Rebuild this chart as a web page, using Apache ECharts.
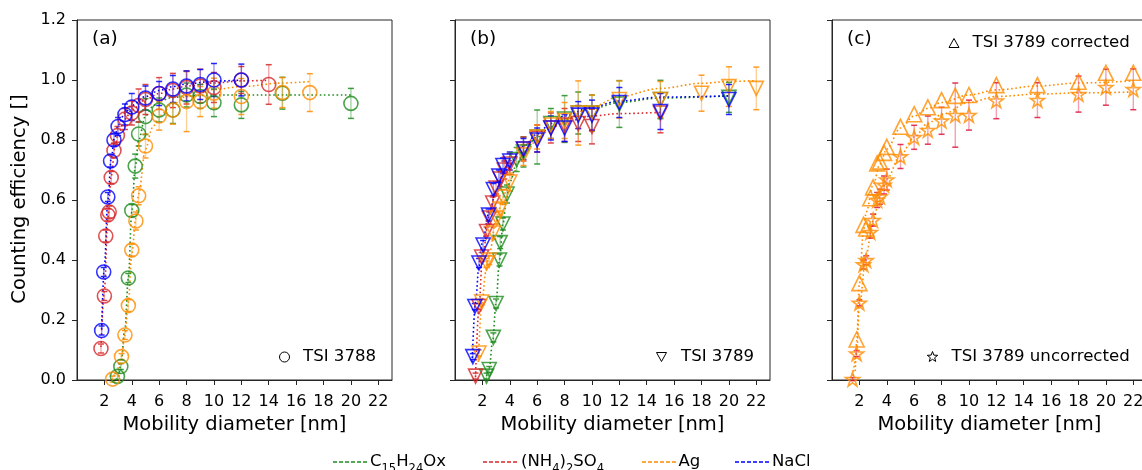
<!DOCTYPE html>
<html><head><meta charset="utf-8">
<script src="https://cdn.jsdelivr.net/npm/echarts@6/dist/echarts.min.js"></script>
<style>html,body{margin:0;padding:0;background:#fff}#c{width:1142px;height:470px}</style>
</head><body><div id="c"></div><script>
// ---------- tick labels ----------
const xTicks = [2, 4, 6, 8, 10, 12, 14, 16, 18, 20, 22];

// ---------- panel (a): TSI 3788 ----------
const aGreenX = [2.95, 3.2, 3.75, 4.0, 4.25, 4.5, 5.0, 6.0, 7.0, 8.0, 9.0, 10.0, 12.0, 15.0, 20.0];
const aGreenY = [0.012, 0.045, 0.34, 0.565, 0.713, 0.82, 0.878, 0.9, 0.9, 0.95, 0.945, 0.924, 0.917, 0.956, 0.922];
const aGreenE = [0.01, 0.01, 0.015, 0.02, 0.04, 0.04, 0.06, 0.04, 0.045, 0.04, 0.04, 0.046, 0.045, 0.053, 0.05];
const aRedX = [1.75, 2.0, 2.1, 2.25, 2.35, 2.5, 2.7, 2.95, 3.5, 4.0, 4.5, 5.0, 6.0, 7.0, 8.0, 9.0, 10.0, 12.0, 14.0];
const aRedY = [0.105, 0.28, 0.48, 0.55, 0.56, 0.675, 0.765, 0.815, 0.87, 0.89, 0.915, 0.935, 0.955, 0.965, 0.975, 0.98, 0.975, 1.0, 0.985];
const aRedE = [0.015, 0.015, 0.02, 0.02, 0.02, 0.02, 0.025, 0.03, 0.035, 0.04, 0.055, 0.05, 0.053, 0.057, 0.055, 0.056, 0.05, 0.045, 0.066];
const aOrangeX = [2.6, 3.25, 3.5, 3.75, 4.0, 4.3, 4.5, 5.0, 6.0, 7.0, 8.0, 9.0, 10.0, 12.0, 15.0, 17.0];
const aOrangeY = [0.003, 0.078, 0.15, 0.248, 0.433, 0.53, 0.614, 0.78, 0.88, 0.9, 0.928, 0.928, 0.956, 0.945, 0.958, 0.958];
const aOrangeE = [0.01, 0.01, 0.015, 0.02, 0.02, 0.03, 0.03, 0.04, 0.047, 0.047, 0.1, 0.05, 0.05, 0.06, 0.05, 0.063];
const aBlueX = [1.8, 1.95, 2.25, 2.45, 2.7, 3.0, 3.5, 4.0, 5.0, 6.0, 7.0, 8.0, 9.0, 10.0, 12.0];
const aBlueY = [0.165, 0.36, 0.61, 0.73, 0.80, 0.845, 0.885, 0.91, 0.94, 0.955, 0.97, 0.98, 0.985, 1.0, 1.0];
const aBlueE = [0.015, 0.015, 0.015, 0.02, 0.02, 0.03, 0.035, 0.045, 0.04, 0.04, 0.045, 0.05, 0.05, 0.055, 0.053];
// fitted curves
const aGreenFitX = [2.85, 3.0, 3.2, 3.5, 3.75, 4.0, 4.25, 4.5, 5.0, 5.5, 6.0, 7.0, 8.0, 10.0, 12.0, 15.0, 20.0];
const aGreenFitY = [0.0, 0.01, 0.05, 0.17, 0.34, 0.56, 0.71, 0.8, 0.88, 0.91, 0.93, 0.942, 0.947, 0.95, 0.95, 0.95, 0.95];
const aRedFitX = [1.75, 2.0, 2.25, 2.5, 2.75, 3.0, 3.5, 4.0, 5.0, 6.0, 7.0, 8.0, 10.0, 12.0, 14.0];
const aRedFitY = [0.11, 0.3, 0.54, 0.68, 0.77, 0.82, 0.87, 0.9, 0.935, 0.955, 0.97, 0.98, 0.99, 0.997, 0.999];
const aOrangeFitX = [2.6, 3.0, 3.25, 3.5, 3.75, 4.0, 4.3, 4.5, 5.0, 5.5, 6.0, 7.0, 8.0, 10.0, 12.0, 15.0, 17.0];
const aOrangeFitY = [0.0, 0.04, 0.08, 0.15, 0.26, 0.42, 0.54, 0.62, 0.77, 0.84, 0.88, 0.92, 0.945, 0.968, 0.978, 0.99, 0.995];
const aBlueFitX = [1.8, 2.0, 2.25, 2.5, 2.75, 3.0, 3.5, 4.0, 5.0, 6.0, 7.0, 8.0, 10.0, 12.0];
const aBlueFitY = [0.17, 0.38, 0.6, 0.74, 0.81, 0.85, 0.89, 0.915, 0.945, 0.965, 0.978, 0.987, 0.996, 1.0];

// ---------- panel (b): TSI 3789 ----------
const bGreenX = [2.3, 2.5, 2.8, 3.0, 3.25, 3.3, 3.5, 3.8, 4.5, 5.0, 6.0, 7.0, 8.0, 9.0, 10.0, 12.0, 15.0, 20.0];
const bGreenY = [0.013, 0.035, 0.142, 0.255, 0.40, 0.458, 0.52, 0.62, 0.735, 0.76, 0.81, 0.855, 0.87, 0.89, 0.89, 0.92, 0.935, 0.942];
const bGreenE = [0.01, 0.01, 0.015, 0.015, 0.02, 0.02, 0.02, 0.03, 0.04, 0.05, 0.09, 0.05, 0.078, 0.07, 0.06, 0.078, 0.064, 0.05];
const bRedX = [1.5, 1.75, 1.95, 2.3, 2.5, 2.75, 3.0, 3.3, 3.6, 4.0, 5.0, 6.0, 7.0, 8.0, 9.0, 10.0, 15.0];
const bRedY = [0.013, 0.245, 0.41, 0.495, 0.54, 0.59, 0.64, 0.67, 0.70, 0.72, 0.77, 0.805, 0.84, 0.85, 0.855, 0.845, 0.89];
const bRedE = [0.01, 0.01, 0.015, 0.015, 0.02, 0.02, 0.02, 0.025, 0.03, 0.035, 0.04, 0.045, 0.05, 0.055, 0.06, 0.058, 0.066];
const bOrangeX = [1.75, 1.95, 2.3, 2.5, 2.8, 3.05, 3.3, 3.5, 4.0, 5.0, 6.0, 7.0, 8.0, 9.0, 10.0, 12.0, 15.0, 18.0, 20.0, 22.0];
const bOrangeY = [0.09, 0.26, 0.39, 0.40, 0.49, 0.54, 0.57, 0.61, 0.66, 0.75, 0.81, 0.85, 0.865, 0.89, 0.89, 0.935, 0.935, 0.956, 0.978, 0.972];
const bOrangeE = [0.01, 0.01, 0.015, 0.015, 0.02, 0.02, 0.02, 0.025, 0.03, 0.035, 0.04, 0.045, 0.06, 0.107, 0.06, 0.062, 0.06, 0.06, 0.066, 0.071];
const bBlueX = [1.3, 1.45, 1.75, 2.05, 2.45, 2.8, 3.2, 3.5, 4.0, 5.0, 6.0, 7.0, 8.0, 9.0, 10.0, 12.0, 15.0, 20.0];
const bBlueY = [0.078, 0.245, 0.39, 0.45, 0.55, 0.635, 0.68, 0.715, 0.73, 0.77, 0.80, 0.84, 0.84, 0.883, 0.883, 0.925, 0.895, 0.935];
const bBlueE = [0.01, 0.01, 0.015, 0.015, 0.02, 0.02, 0.02, 0.025, 0.03, 0.035, 0.04, 0.04, 0.045, 0.045, 0.05, 0.05, 0.06, 0.05];
const bGreenFitX = [2.25, 2.5, 2.75, 3.0, 3.25, 3.5, 3.75, 4.0, 4.5, 5.0, 6.0, 7.0, 8.0, 10.0, 12.0, 15.0, 20.0];
const bGreenFitY = [0.0, 0.04, 0.13, 0.26, 0.4, 0.52, 0.6, 0.66, 0.72, 0.76, 0.81, 0.845, 0.87, 0.905, 0.925, 0.94, 0.947];
const bRedFitX = [1.5, 1.75, 2.0, 2.5, 3.0, 3.5, 4.0, 5.0, 6.0, 7.0, 8.0, 10.0, 12.0, 15.0];
const bRedFitY = [0.01, 0.24, 0.41, 0.55, 0.63, 0.69, 0.73, 0.78, 0.815, 0.84, 0.86, 0.88, 0.888, 0.892];
const bOrangeFitX = [1.7, 1.95, 2.25, 2.5, 3.0, 3.5, 4.0, 5.0, 6.0, 7.0, 8.0, 10.0, 12.0, 15.0, 18.0, 20.0, 22.0];
const bOrangeFitY = [0.06, 0.25, 0.36, 0.42, 0.53, 0.61, 0.67, 0.75, 0.8, 0.84, 0.87, 0.91, 0.945, 0.972, 0.989, 0.995, 0.998];
const bBlueFitX = [1.25, 1.5, 1.75, 2.0, 2.5, 3.0, 3.5, 4.0, 5.0, 6.0, 7.0, 8.0, 10.0, 12.0, 15.0, 20.0];
const bBlueFitY = [0.06, 0.26, 0.38, 0.46, 0.56, 0.63, 0.68, 0.72, 0.78, 0.82, 0.855, 0.88, 0.91, 0.93, 0.943, 0.947];

// ---------- panel (c): TSI 3789 corrected / uncorrected (Ag) ----------
const cCorrX = [1.8, 2.0, 2.3, 2.5, 2.8, 3.0, 3.3, 3.5, 3.8, 4.0, 5.0, 6.0, 7.0, 8.0, 9.0, 10.0, 12.0, 15.0, 18.0, 20.0, 22.0];
const cCorrY = [0.135, 0.323, 0.517, 0.505, 0.606, 0.642, 0.722, 0.728, 0.757, 0.777, 0.844, 0.886, 0.909, 0.933, 0.947, 0.95, 0.983, 0.983, 0.994, 1.024, 1.024];
const cUncX = [1.5, 1.8, 2.0, 2.3, 2.5, 2.8, 3.0, 3.3, 3.5, 3.8, 4.0, 5.0, 6.0, 7.0, 8.0, 9.0, 10.0, 12.0, 15.0, 18.0, 20.0, 22.0];
const cUncY = [0.003, 0.088, 0.257, 0.385, 0.399, 0.493, 0.533, 0.6, 0.611, 0.65, 0.668, 0.745, 0.809, 0.833, 0.864, 0.883, 0.883, 0.931, 0.933, 0.953, 0.976, 0.969];
const cUncE = [0.005, 0.01, 0.01, 0.015, 0.015, 0.02, 0.02, 0.025, 0.025, 0.03, 0.035, 0.04, 0.04, 0.047, 0.045, 0.107, 0.05, 0.06, 0.058, 0.06, 0.06, 0.068];
const cCorrFitX = [1.7, 1.8, 2.0, 2.3, 2.5, 3.0, 3.5, 4.0, 5.0, 6.0, 7.0, 8.0, 10.0, 12.0, 15.0, 18.0, 22.0];
const cCorrFitY = [0.03, 0.13, 0.32, 0.5, 0.56, 0.65, 0.72, 0.77, 0.84, 0.88, 0.905, 0.925, 0.95, 0.967, 0.98, 0.99, 0.997];
const cUncFitX = [1.5, 1.8, 2.0, 2.5, 3.0, 3.5, 4.0, 5.0, 6.0, 7.0, 8.0, 10.0, 12.0, 15.0, 18.0, 22.0];
const cUncFitY = [0.0, 0.09, 0.25, 0.42, 0.53, 0.61, 0.67, 0.75, 0.81, 0.855, 0.885, 0.925, 0.945, 0.953, 0.957, 0.96];

// ---------- styling ----------
const FONT = 'DejaVu Sans';
const C = { green: '#1e8c1e', red: '#d62728', orange: '#ff8c00', blue: '#0000ff', err: '#dc143c' };
const AX = '#262626';
const STAR = 'path://M50,2 L61.2,36.5 L97.5,36.5 L68.2,57.9 L79.4,92.4 L50,71 L20.6,92.4 L31.8,57.9 L2.5,36.5 L38.8,36.5 Z';
const panelLeft = [77, 455, 832];

const chart = echarts.init(document.getElementById('c'), null, { renderer: 'canvas' });

const grid = panelLeft.map(l => ({ left: l, top: 20, width: 315, height: 360, show: true,
  borderColor: AX, borderWidth: 1, backgroundColor: 'rgba(0,0,0,0)', outerBoundsMode: 'none', containLabel: false }));

const xAxis = panelLeft.map((l, i) => ({
  gridIndex: i, type: 'value', min: 0, max: 23, interval: 2,
  axisLine: { show: true, onZero: false, lineStyle: { color: AX, width: 1 } },
  axisTick: { show: true, inside: false, length: 5, customValues: xTicks, lineStyle: { color: AX, width: 1 } },
  axisLabel: { show: true, fontSize: 16, color: '#000', fontFamily: FONT, margin: 14,
    showMinLabel: false, showMaxLabel: false,
    formatter: v => (xTicks.indexOf(v) >= 0 ? String(v) : '') },
  splitLine: { show: false },
  name: 'Mobility diameter [nm]', nameLocation: 'middle', nameGap: 32,
  nameTextStyle: { fontSize: 19.5, color: '#000', fontFamily: FONT }
}));
const yAxis = panelLeft.map((l, i) => ({
  gridIndex: i, type: 'value', min: 0, max: 1.2, interval: 0.2,
  axisLine: { show: true, onZero: false, lineStyle: { color: AX, width: 1 } },
  axisTick: { show: true, inside: false, length: 5, lineStyle: { color: AX, width: 1 } },
  axisLabel: { show: i === 0, fontSize: 16, color: '#000', fontFamily: FONT, margin: 11,
    formatter: v => v.toFixed(1) },
  splitLine: { show: false }
}));

const series = [];
function fit(gi, xs, ys, color) {
  series.push({ type: 'line', xAxisIndex: gi, yAxisIndex: gi, data: xs.map((x, k) => [x, ys[k]]),
    showSymbol: false, symbol: 'none', smooth: 0.35, smoothMonotone: 'x', silent: true, z: 1,
    lineStyle: { color: color, width: 1.6, type: [1.6, 2.6] } });
}
function errbar(gi, xs, ys, es, color) {
  series.push({ type: 'custom', xAxisIndex: gi, yAxisIndex: gi, silent: true, z: 2,
    data: xs.map((x, k) => [x, ys[k], es[k]]), encode: { x: 0, y: 1 },
    renderItem: (params, api) => {
      const x = api.value(0), y = api.value(1), e = api.value(2);
      const lo = api.coord([x, y - e]), hi = api.coord([x, y + e]);
      const w = 3;
      return { type: 'group', children: [
        { type: 'line', shape: { x1: lo[0], y1: lo[1], x2: hi[0], y2: hi[1] }, style: { stroke: color, lineWidth: 1.4, opacity: 0.4 } },
        { type: 'line', shape: { x1: lo[0] - w, y1: lo[1], x2: lo[0] + w, y2: lo[1] }, style: { stroke: color, lineWidth: 1.5, opacity: 0.85 } },
        { type: 'line', shape: { x1: hi[0] - w, y1: hi[1], x2: hi[0] + w, y2: hi[1] }, style: { stroke: color, lineWidth: 1.5, opacity: 0.85 } }
      ] };
    } });
}
function pts(gi, xs, ys, color, symbol, rot, size) {
  series.push({ type: 'scatter', xAxisIndex: gi, yAxisIndex: gi, data: xs.map((x, k) => [x, ys[k]]),
    symbol: symbol, symbolSize: size, symbolRotate: rot, silent: true, z: 3,
    itemStyle: { color: 'rgba(255,255,255,0)', borderColor: color, borderWidth: 1.6 } });
}

// panel a
fit(0, aGreenFitX, aGreenFitY, C.green); fit(0, aRedFitX, aRedFitY, C.red);
fit(0, aOrangeFitX, aOrangeFitY, C.orange); fit(0, aBlueFitX, aBlueFitY, C.blue);
errbar(0, aGreenX, aGreenY, aGreenE, C.green); errbar(0, aRedX, aRedY, aRedE, C.red);
errbar(0, aOrangeX, aOrangeY, aOrangeE, C.orange); errbar(0, aBlueX, aBlueY, aBlueE, C.blue);
pts(0, aGreenX, aGreenY, C.green, 'circle', 0, 14); pts(0, aRedX, aRedY, C.red, 'circle', 0, 14);
pts(0, aOrangeX, aOrangeY, C.orange, 'circle', 0, 14); pts(0, aBlueX, aBlueY, C.blue, 'circle', 0, 14);
// panel b
fit(1, bGreenFitX, bGreenFitY, C.green); fit(1, bRedFitX, bRedFitY, C.red);
fit(1, bOrangeFitX, bOrangeFitY, C.orange); fit(1, bBlueFitX, bBlueFitY, C.blue);
errbar(1, bGreenX, bGreenY, bGreenE, C.green); errbar(1, bRedX, bRedY, bRedE, C.red);
errbar(1, bOrangeX, bOrangeY, bOrangeE, C.orange); errbar(1, bBlueX, bBlueY, bBlueE, C.blue);
pts(1, bGreenX, bGreenY, C.green, 'triangle', 180, 14); pts(1, bRedX, bRedY, C.red, 'triangle', 180, 14);
pts(1, bOrangeX, bOrangeY, C.orange, 'triangle', 180, 14); pts(1, bBlueX, bBlueY, C.blue, 'triangle', 180, 14);
// panel c
fit(2, cCorrFitX, cCorrFitY, C.orange); fit(2, cUncFitX, cUncFitY, C.orange);
errbar(2, cUncX, cUncY, cUncE, C.err);
pts(2, cCorrX, cCorrY, C.orange, 'triangle', 0, 15);
pts(2, cUncX, cUncY, C.orange, STAR, 0, 14);

// ---------- annotations ----------
const T = (x, y, text, size, align) => ({ type: 'text', x: x, y: y, silent: true,
  style: { text: text, fontSize: size, fontFamily: FONT, fill: '#000', align: align || 'left', verticalAlign: 'middle' } });
function starPoints(cx, cy, R, r) {
  const p = [];
  for (let k = 0; k < 10; k++) {
    const a = -Math.PI / 2 + k * Math.PI / 5, rr = k % 2 ? r : R;
    p.push([cx + rr * Math.cos(a), cy + rr * Math.sin(a)]);
  }
  return p;
}
const graphic = [
  { type: 'text', x: 20, y: 199, rotation: Math.PI / 2, silent: true,
    style: { text: 'Counting efficiency []', fontSize: 19.5, fontFamily: FONT, fill: '#000', align: 'center', verticalAlign: 'middle' } },
  T(92, 39, '(a)', 18.5), T(470, 39, '(b)', 18.5), T(847, 39, '(c)', 18.5),
  { type: 'circle', shape: { cx: 284.5, cy: 357, r: 5 }, style: { fill: 'none', stroke: '#000', lineWidth: 1 } },
  T(303, 357, 'TSI 3788', 16.6),
  { type: 'polygon', shape: { points: [[656.5, 352.5], [666.5, 352.5], [661.5, 361.5]] }, style: { fill: 'none', stroke: '#000', lineWidth: 1 } },
  T(681, 357, 'TSI 3789', 16.6),
  { type: 'polygon', shape: { points: [[949, 47.5], [959, 47.5], [954, 38.5]] }, style: { fill: 'none', stroke: '#000', lineWidth: 1 } },
  T(972.5, 43, 'TSI 3789 corrected', 16.6),
  { type: 'polygon', shape: { points: starPoints(932.5, 357, 5.5, 2.3) }, style: { fill: 'none', stroke: '#000', lineWidth: 1 } },
  T(951.5, 357, 'TSI 3789 uncorrected', 16.6),
  // bottom legend
  { type: 'line', shape: { x1: 333, y1: 462, x2: 368, y2: 462 }, style: { stroke: C.green, lineWidth: 1.5, lineDash: [4, 2] } },
  { type: 'line', shape: { x1: 483, y1: 462, x2: 518, y2: 462 }, style: { stroke: C.red, lineWidth: 1.5, lineDash: [4, 2] } },
  { type: 'line', shape: { x1: 642, y1: 462, x2: 677, y2: 462 }, style: { stroke: C.orange, lineWidth: 1.5, lineDash: [4, 2] } },
  { type: 'line', shape: { x1: 735, y1: 462, x2: 770, y2: 462 }, style: { stroke: C.blue, lineWidth: 1.5, lineDash: [4, 2] } },
  { type: 'text', x: 370, y: 464, silent: true, style: { text: '{n|C}{s|15}{n|H}{s|24}{n|Ox}', verticalAlign: 'middle', align: 'left',
      rich: { n: { fontSize: 16.5, fontFamily: FONT, fill: '#000', lineHeight: 22, verticalAlign: 'bottom', padding: [0, 0, 5, 0] },
              s: { fontSize: 11.5, fontFamily: FONT, fill: '#000', lineHeight: 22, verticalAlign: 'bottom', padding: [0, 0, 0, 0] } } } },
  { type: 'text', x: 521, y: 464, silent: true, style: { text: '{n|(NH}{s|4}{n|)}{s|2}{n|SO}{s|4}', verticalAlign: 'middle', align: 'left',
      rich: { n: { fontSize: 16.5, fontFamily: FONT, fill: '#000', lineHeight: 22, verticalAlign: 'bottom', padding: [0, 0, 5, 0] },
              s: { fontSize: 11.5, fontFamily: FONT, fill: '#000', lineHeight: 22, verticalAlign: 'bottom', padding: [0, 0, 0, 0] } } } },
  T(678.5, 462, 'Ag', 16.5), T(772, 462, 'NaCl', 16.5)
];

chart.setOption({
  animation: false, backgroundColor: '#fff',
  grid: grid, xAxis: xAxis, yAxis: yAxis, series: series, graphic: graphic
});
</script></body></html>
